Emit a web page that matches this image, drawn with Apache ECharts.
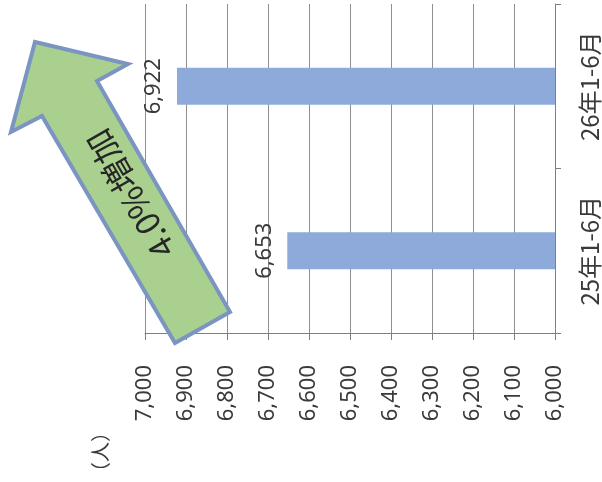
<!DOCTYPE html>
<html>
<head>
<meta charset="utf-8">
<script src="https://cdn.jsdelivr.net/npm/echarts@6/dist/echarts.min.js"></script>
<style>html,body{margin:0;padding:0;background:#fff;}#c{width:602px;height:482px;}</style>
</head>
<body>
<div id="c"></div>
<script>
const categories = ['25年1-6月', '26年1-6月'];
const values = [6653, 6922];
const axisMin = 6000;
const axisMax = 7000;
const axisStep = 100;
const unitLabel = '（人）';
const arrowText = '4.0%増加';

const FONT = '"Noto Sans", "Noto Sans CJK JP", sans-serif';
const fmt = v => v.toLocaleString('en-US');

const chart = echarts.init(document.getElementById('c'));
chart.setOption({
  animation: false,
  backgroundColor: '#ffffff',
  grid: { left: 145, right: 45, top: 4, bottom: 149 },
  xAxis: {
    type: 'value', inverse: true, min: axisMin, max: axisMax, interval: axisStep,
    position: 'bottom',
    axisLine: { show: true, lineStyle: { color: '#7f7f7f', width: 1 } },
    axisTick: { show: true, length: 7, lineStyle: { color: '#7f7f7f' } },
    splitLine: { show: true, lineStyle: { color: '#8f8f8f', width: 1 } },
    axisLabel: { rotate: 90, margin: 32, fontSize: 22, color: '#3a3a3a', fontFamily: FONT, formatter: fmt }
  },
  yAxis: {
    type: 'category', data: categories, position: 'right',
    axisLine: { show: true, lineStyle: { color: '#7f7f7f', width: 1 } },
    axisTick: { show: true, length: 6, lineStyle: { color: '#7f7f7f' } },
    axisLabel: { rotate: 90, margin: 23, fontSize: 24, color: '#3a3a3a', fontFamily: '"Noto Sans CJK JP", sans-serif' }
  },
  series: [{
    type: 'bar', data: values, barWidth: 37,
    itemStyle: { color: '#8eaadb' },
    label: {
      show: true, position: 'left', distance: 12, rotate: 90,
      align: 'center', verticalAlign: 'bottom',
      fontSize: 22, color: '#3a3a3a', fontFamily: FONT, formatter: p => fmt(p.value)
    }
  }],
  graphic: [
    {
      type: 'polygon', z: 100,
      shape: { points: [[35, 42], [128, 64], [97, 81], [230, 312], [175, 343], [42, 116], [11, 132]] },
      style: { fill: '#a9d08e', stroke: '#7b95c2', lineWidth: 4, lineJoin: 'miter' }
    },
    {
      type: 'text', z: 101, x: 130, y: 194, rotation: 120 * Math.PI / 180,
      style: { text: arrowText, fontSize: 33, fontFamily: '"Noto Sans CJK JP", sans-serif', fill: '#262626', align: 'center', verticalAlign: 'middle' }
    },
    {
      type: 'text', z: 101, x: 100, y: 452, rotation: Math.PI / 2,
      style: { text: unitLabel, fontSize: 20, fontFamily: '"Noto Sans CJK JP", sans-serif', fill: '#3a3a3a', align: 'center', verticalAlign: 'middle' }
    }
  ]
});
</script>
</body>
</html>
